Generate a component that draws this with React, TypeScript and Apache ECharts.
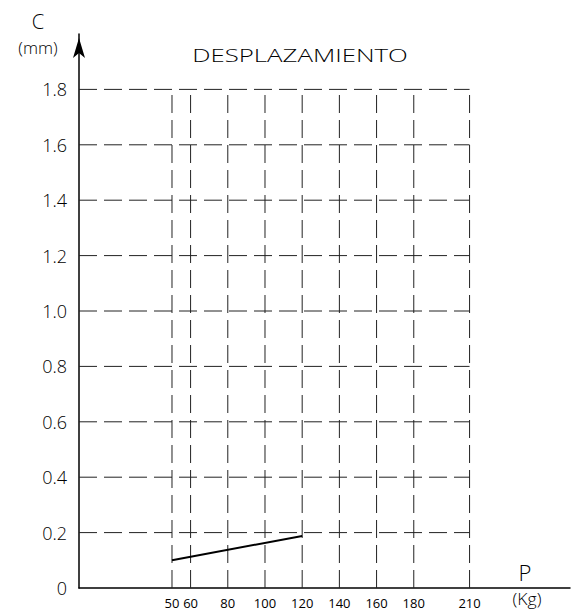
import React, { useEffect, useRef } from "react";
import * as echarts from "echarts";

const xTicks = [50, 60, 80, 100, 120, 140, 160, 180, 210];
const yTicks = [0, 0.2, 0.4, 0.6, 0.8, 1.0, 1.2, 1.4, 1.6, 1.8];
const seriesX = [50, 120];
const seriesY = [0.1, 0.188];
const titleText = "DESPLAZAMIENTO";
const yName = "C";
const yUnit = "(mm)";
const xName = "P";
const xUnit = "(Kg)";

const X_MAX = 264;
const Y_MAX = 2.0;
const GRID_X_END = 210;
const GRID_Y_END = 1.8;

const FONT = "'Open Sans', 'DejaVu Sans', sans-serif";

export default function App() {
  const ref = useRef<HTMLDivElement>(null);
  useEffect(() => {
    if (!ref.current) return;
    const chart = echarts.init(ref.current, null, { renderer: "svg" });
    const dash = { color: "#222", width: 1, type: [18, 7] as any };
    const gridSeries: any[] = [];
    yTicks.filter((v) => v > 0).forEach((v) => {
      gridSeries.push({
        type: "line",
        data: [[0, v], [GRID_X_END, v]],
        symbol: "none",
        silent: true,
        lineStyle: dash,
        z: 1,
      });
    });
    xTicks.forEach((x) => {
      gridSeries.push({
        type: "line",
        data: [[x, 0], [x, GRID_Y_END]],
        symbol: "none",
        silent: true,
        lineStyle: dash,
        z: 1,
      });
    });
    const txt = (text: string, x: number, y: number, size: number, scaleX = 1) => ({
      type: "text",
      x,
      y,
      scaleX,
      style: {
        text,
        fontSize: size,
        fontFamily: FONT,
        fontWeight: 300,
        fill: "#000",
        align: "center",
        verticalAlign: "middle",
      },
    });
    const option: any = {
      animation: false,
      grid: { left: 79, right: 1, top: 34, bottom: 23, containLabel: false },
      xAxis: {
        type: "value",
        min: 0,
        max: X_MAX,
        splitLine: { show: false },
        axisTick: { show: false },
        axisLine: { show: true, lineStyle: { color: "#000", width: 1.5 } },
        axisLabel: {
          customValues: xTicks,
          color: "#000",
          fontSize: 13,
          fontFamily: FONT,
          fontWeight: 400,
          margin: 8,
        },
      },
      yAxis: {
        type: "value",
        min: 0,
        max: Y_MAX,
        interval: 0.2,
        splitLine: { show: false },
        axisTick: { show: false },
        axisLine: {
          show: true,
          lineStyle: { color: "#000", width: 1.5 },
          symbol: ["none", "arrow"],
          symbolSize: [9, 20],
          symbolOffset: [0, -4],
        },
        axisLabel: {
          customValues: yTicks,
          color: "#000",
          fontSize: 18,
          fontFamily: FONT,
          fontWeight: 300,
          margin: 12,
          formatter: (v: number) => (v === 0 ? "0" : v.toFixed(1)),
        },
      },
      graphic: [
        txt(titleText, 300, 55, 19, 1.36),
        txt(yName, 38, 21, 20),
        txt(yUnit, 38, 47, 17),
        txt(xName, 525, 572, 22),
        txt(xUnit, 527, 599, 16, 1.1),
      ],
      series: [
        ...gridSeries,
        {
          type: "line",
          data: seriesX.map((x, i) => [x, seriesY[i]]),
          symbol: "none",
          lineStyle: { color: "#000", width: 2 },
          z: 5,
        },
      ],
    };
    chart.setOption(option);
    return () => chart.dispose();
  }, []);
  return (
    <div
      ref={ref}
      style={{ width: 571, height: 611, position: "absolute", left: 0, top: 0, background: "#fff" }}
    />
  );
}
